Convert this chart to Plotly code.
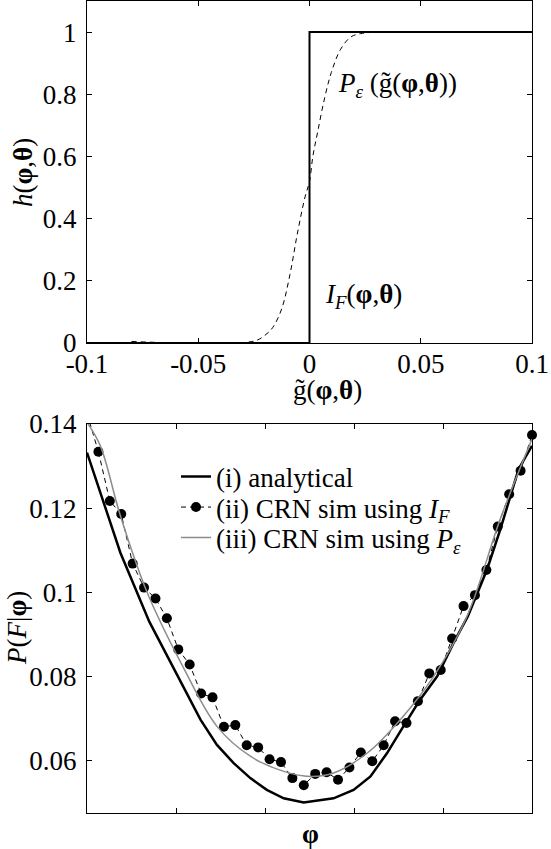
import numpy as np
import plotly.graph_objects as go

# ---------------- top panel data ----------------
g_step = [-0.1, 0.0, 0.0, 0.1]
h_indicator = [0.0, 0.0, 1.0, 1.0]

g_smooth = [-0.080, -0.025, -0.020, -0.0165, -0.0125, -0.0088, -0.0055, -0.002, 0.000,
            0.0015, 0.0037, 0.0067, 0.0098, 0.014, 0.0187, 0.023, 0.0275]
h_smooth = [0.005, 0.006, 0.025, 0.05, 0.11, 0.22, 0.35, 0.47, 0.52,
            0.60, 0.68, 0.785, 0.87, 0.945, 0.985, 0.995, 0.999]

top_xticks = [-0.1, -0.05, 0.0, 0.05, 0.1]
top_xticklabels = ["-0.1", "-0.05", "0", "0.05", "0.1"]
top_yticks = [0, 0.2, 0.4, 0.6, 0.8, 1.0]
top_yticklabels = ["0", "0.2", "0.4", "0.6", "0.8", "1"]

# ---------------- bottom panel data ----------------
phi_analytical = [0.000, 0.075, 0.140, 0.180, 0.217, 0.255, 0.292, 0.329, 0.367, 0.404,
                  0.442, 0.487, 0.554, 0.599, 0.637, 0.674, 0.711, 0.749, 0.787, 0.824,
                  0.856, 0.899, 0.929, 0.951, 0.970, 1.000]
pF_analytical = [0.1332, 0.1094, 0.0930, 0.0848, 0.0776, 0.0697, 0.0637, 0.0594, 0.0558, 0.0530,
                 0.0510, 0.0500, 0.0510, 0.0530, 0.0562, 0.0617, 0.0681, 0.0745, 0.0800, 0.0880,
                 0.0943, 0.1054, 0.1150, 0.1229, 0.1293, 0.1348]

phi_sim = list(np.linspace(0.0, 1.0, 40))
pF_crn_IF = [0.1425, 0.1334, 0.1217, 0.1186, 0.1068, 0.1011, 0.0985, 0.0938, 0.0864, 0.0828,
             0.0759, 0.0750, 0.0680, 0.0684, 0.0636, 0.0631, 0.0603, 0.0596, 0.0558, 0.0541,
             0.0568, 0.0572, 0.0554, 0.0583, 0.0619, 0.0598, 0.0636, 0.0693, 0.0689, 0.0741,
             0.0807, 0.0815, 0.0890, 0.0967, 0.0993, 0.1053, 0.1156, 0.1233, 0.1289, 0.1374]

phi_peps = [0.000, 0.030, 0.075, 0.135, 0.217, 0.292, 0.367, 0.442, 0.502, 0.554,
            0.629, 0.704, 0.779, 0.854, 0.929, 1.000]
pF_crn_Peps = [0.1404, 0.1348, 0.1182, 0.1000, 0.0820, 0.0681, 0.0610, 0.0574, 0.0562, 0.0570,
               0.0617, 0.0697, 0.0800, 0.0943, 0.1175, 0.1364]

bot_xticks = [0, 0.2, 0.4, 0.6, 0.8, 1.0]
bot_yticks = [0.06, 0.08, 0.10, 0.12, 0.14]
bot_yticklabels = ["0.06", "0.08", "0.1", "0.12", "0.14"]

# ---------------- layout geometry ----------------
W, H = 551, 849
ML, MR = 87, 19
def py(pix):  # pixel row -> paper fraction (t=b=0)
    return 1 - pix / H
def px(pix):
    return (pix - ML) / (W - ML - MR)

FONT = "Liberation Serif, serif"
FS = 27

fig = go.Figure()

# top panel
fig.add_trace(go.Scatter(x=g_step, y=h_indicator, mode="lines",
                         line=dict(color="black", width=2), showlegend=False,
                         xaxis="x", yaxis="y"))
fig.add_trace(go.Scatter(x=g_smooth, y=h_smooth, mode="lines",
                         line=dict(color="black", width=1, dash="5px,4px"),
                         line_shape="spline", showlegend=False,
                         xaxis="x", yaxis="y"))

# bottom panel
fig.add_trace(go.Scatter(x=phi_analytical, y=pF_analytical, mode="lines",
                         line=dict(color="black", width=2.5),
                         name="(i) analytical", legend="legend",
                         xaxis="x2", yaxis="y2"))
fig.add_trace(go.Scatter(x=phi_sim[:2], y=pF_crn_IF[:2], mode="lines",
                         line=dict(color="black", width=1, dash="5px,4px"),
                         showlegend=False, xaxis="x2", yaxis="y2"))
fig.add_trace(go.Scatter(x=phi_sim[1:], y=pF_crn_IF[1:], mode="lines+markers",
                         line=dict(color="black", width=1, dash="5px,4px"),
                         marker=dict(color="black", size=10, symbol="circle"),
                         cliponaxis=False,
                         name="(ii) CRN sim using <i>I</i><sub><i>F</i></sub>",
                         legend="legend2", xaxis="x2", yaxis="y2"))
fig.add_trace(go.Scatter(x=phi_peps, y=pF_crn_Peps, mode="lines",
                         line=dict(color="rgb(140,140,140)", width=1.5),
                         line_shape="spline",
                         name="(iii) CRN sim using <i>P</i><sub><i>ε</i></sub>",
                         legend="legend3", xaxis="x2", yaxis="y2"))

axis_common = dict(showline=True, linecolor="black", linewidth=1, mirror="allticks",
                   ticks="inside", ticklen=5, tickcolor="black", tickwidth=1,
                   showgrid=False, zeroline=False,
                   tickfont=dict(family=FONT, size=FS, color="black"))

def leg(row_y):
    return dict(x=px(176), y=py(row_y), xanchor="left", yanchor="middle",
                bgcolor="rgba(0,0,0,0)", borderwidth=0,
                font=dict(family=FONT, size=FS, color="black"))

fig.update_layout(
    width=W, height=H,
    margin=dict(l=ML, r=MR, t=0, b=0, autoexpand=False),
    paper_bgcolor="white", plot_bgcolor="white",
    font=dict(family=FONT, size=FS, color="black"),
    xaxis=dict(domain=[0, 1], range=[-0.1, 0.1], anchor="y",
               tickvals=top_xticks, ticktext=top_xticklabels,
               ticklabelstandoff=-3, **axis_common),
    yaxis=dict(domain=[py(343), py(1)], range=[0, 1.1], anchor="x",
               tickvals=top_yticks, ticktext=top_yticklabels,
               ticklabelstandoff=4, **axis_common),
    xaxis2=dict(domain=[0, 1], range=[0, 1], anchor="y2",
                tickvals=bot_xticks, showticklabels=False, **axis_common),
    yaxis2=dict(domain=[py(813), py(424)], range=[0.0475, 0.14], anchor="x2",
                tickvals=bot_yticks, ticktext=bot_yticklabels,
                ticklabelstandoff=4, **axis_common),
    legend=leg(477), legend2=leg(507.5), legend3=leg(538),
    showlegend=True,
)

annotations = [
    dict(text="<i>P</i><sub><i>ε</i></sub> (g̃(<b>φ</b>,<b>θ</b>))", x=0.0117, y=0.83,
         xref="x", yref="y", xanchor="left", yanchor="middle", showarrow=False,
         font=dict(family=FONT, size=FS)),
    dict(text="<i>I</i><sub><i>F</i></sub>(<b>φ</b>,<b>θ</b>)", x=0.006, y=0.15,
         xref="x", yref="y", xanchor="left", yanchor="middle", showarrow=False,
         font=dict(family=FONT, size=FS)),
    dict(text="g̃(<b>φ</b>,<b>θ</b>)", x=px(327), y=py(390), xref="paper", yref="paper",
         xanchor="center", yanchor="middle", showarrow=False, font=dict(family=FONT, size=FS)),
    dict(text="<i>h</i>(<b>φ</b>,<b>θ</b>)", x=px(23), y=py(173), xref="paper", yref="paper",
         xanchor="center", yanchor="middle", textangle=-90, showarrow=False,
         font=dict(family=FONT, size=FS)),
    dict(text="<b>φ</b>", x=px(310), y=py(834), xref="paper", yref="paper",
         xanchor="center", yanchor="middle", showarrow=False, font=dict(family=FONT, size=FS)),
    dict(text="<i>P</i>(<i>F</i>|<b>φ</b>)", x=px(17), y=py(628), xref="paper", yref="paper",
         xanchor="center", yanchor="middle", textangle=-90, showarrow=False,
         font=dict(family=FONT, size=FS)),
]
fig.update_layout(annotations=annotations)

fig.write_html(
    "out.html",
    config={"displayModeBar": False},
    post_script=("document.documentElement.style.margin='0px';"
                 "document.documentElement.style.padding='0px';"
                 "document.body.style.margin='0px';"
                 "document.body.style.padding='0px';"
                 "document.body.style.overflow='hidden';"),
)
